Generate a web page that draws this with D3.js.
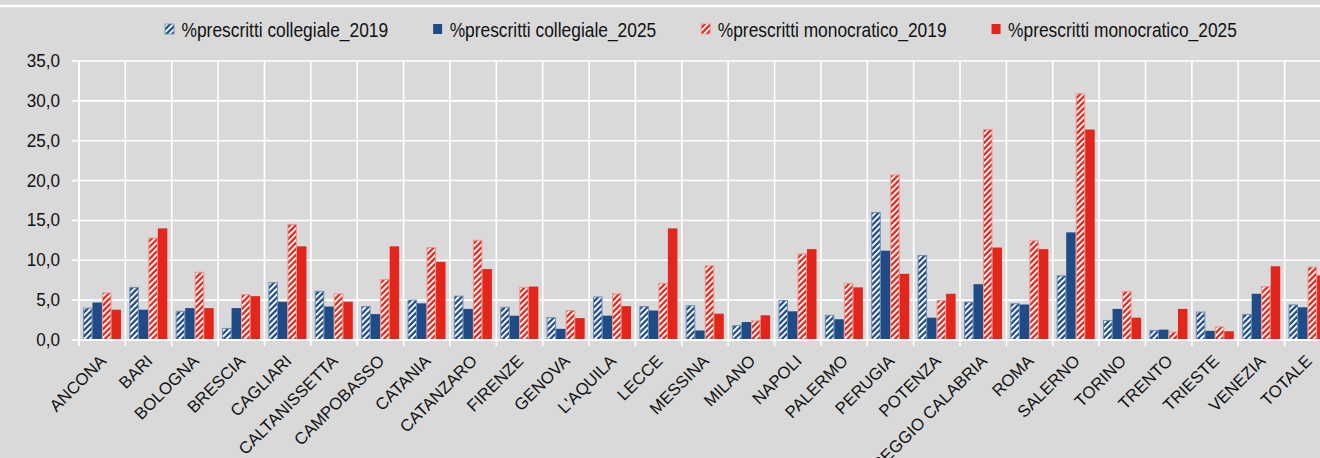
<!DOCTYPE html>
<html>
<head>
<meta charset="utf-8">
<script src="https://cdn.jsdelivr.net/npm/d3@7"></script>
<style>
  html, body { margin: 0; padding: 0; background: #d9d9d9; overflow: hidden; }
  text { font-family: "Liberation Sans", Arial, sans-serif; fill: #111; }
</style>
</head>
<body>
<div id="chart"></div>
<script>
var categorie = ["ANCONA", "BARI", "BOLOGNA", "BRESCIA", "CAGLIARI", "CALTANISSETTA", "CAMPOBASSO",
  "CATANIA", "CATANZARO", "FIRENZE", "GENOVA", "L'AQUILA", "LECCE", "MESSINA", "MILANO", "NAPOLI",
  "PALERMO", "PERUGIA", "POTENZA", "REGGIO CALABRIA", "ROMA", "SALERNO", "TORINO", "TRENTO",
  "TRIESTE", "VENEZIA", "TOTALE"];

var collegiale2019 = [4.0, 6.6, 3.6, 1.45, 7.2, 6.1, 4.2, 5.0, 5.5, 4.1, 2.8, 5.4, 4.2, 4.3, 1.8, 4.95,
  3.1, 16.0, 10.6, 4.75, 4.55, 8.05, 2.45, 1.2, 3.5, 3.2, 4.4];
var collegiale2025 = [4.7, 3.8, 4.0, 4.0, 4.8, 4.2, 3.25, 4.6, 3.9, 3.05, 1.4, 3.05, 3.7, 1.2, 2.25, 3.6,
  2.6, 11.2, 2.8, 7.0, 4.45, 13.5, 3.9, 1.3, 1.15, 5.8, 4.1];
var monocratico2019 = [5.9, 12.8, 8.5, 5.7, 14.5, 5.8, 7.6, 11.6, 12.5, 6.6, 3.7, 5.8, 7.1, 9.3, 2.4, 10.8,
  7.1, 20.7, 4.95, 26.4, 12.45, 30.9, 6.1, 1.0, 1.65, 6.7, 9.15];
var monocratico2025 = [3.8, 14.0, 4.0, 5.5, 11.75, 4.8, 11.75, 9.8, 8.9, 6.7, 2.75, 4.25, 14.0, 3.3, 3.1, 11.4,
  6.6, 8.3, 5.8, 11.6, 11.4, 26.4, 2.8, 3.9, 1.1, 9.25, 8.1];

var serieNomi = ["%prescritti collegiale_2019", "%prescritti collegiale_2025",
  "%prescritti monocratico_2019", "%prescritti monocratico_2025"];
var serieValori = [collegiale2019, collegiale2025, monocratico2019, monocratico2025];
var yTicks = [0, 5, 10, 15, 20, 25, 30, 35];

var blu = "#1f4b87", rosso = "#e3261c";
var stili = [
  { fill: "url(#hatchBlu)", stroke: "#6d8cbb" },
  { fill: blu, stroke: "none" },
  { fill: "url(#hatchRosso)", stroke: "#f2948c" },
  { fill: rosso, stroke: "none" }
];

var W = 1320, H = 458;
var plotLeft = 79, band = 46.37, plotTop = 61, plotBottom = 340;
var squash = 0.9;

var svg = d3.select("#chart").append("svg")
    .attr("width", W).attr("height", H)
    .style("display", "block")
    .style("background", "#d9d9d9");

var defs = svg.append("defs");
function hatch(id, color) {
  var p = defs.append("pattern")
      .attr("id", id)
      .attr("patternUnits", "userSpaceOnUse")
      .attr("width", 4.2).attr("height", 4.2)
      .attr("patternTransform", "rotate(45)");
  p.append("rect").attr("width", 4.2).attr("height", 4.2).attr("fill", color);
  p.append("rect").attr("width", 1.9).attr("height", 4.2).attr("fill", "#fff");
}
hatch("hatchBlu", blu);
hatch("hatchRosso", rosso);

// top white rule
svg.append("line")
    .attr("x1", 0).attr("x2", W).attr("y1", 6).attr("y2", 6)
    .attr("stroke", "#fff").attr("stroke-width", 2.5);

var x0 = d3.scaleBand().domain(categorie).range([plotLeft, plotLeft + band * categorie.length]);
var x1 = d3.scaleBand().domain(d3.range(4)).range([band * 0.085, band * 0.905]);
var y = d3.scaleLinear().domain([0, 35]).range([plotBottom, plotTop]);

// grid
var grid = svg.append("g");
grid.selectAll(".hg").data(yTicks.slice(1)).join("line")
    .attr("x1", plotLeft).attr("x2", W)
    .attr("y1", function(d) { return y(d); }).attr("y2", function(d) { return y(d); })
    .attr("stroke", "#fff").attr("stroke-width", 1.6);
grid.selectAll(".vg").data(categorie.slice(1)).join("line")
    .attr("x1", function(d) { return x0(d); }).attr("x2", function(d) { return x0(d); })
    .attr("y1", y(35)).attr("y2", plotBottom + 6)
    .attr("stroke", "#fff").attr("stroke-width", 1.6);

// bars
serieValori.forEach(function(vals, s) {
  var bordo = stili[s].stroke != "none";
  svg.append("g").selectAll("rect").data(vals).join("rect")
      .attr("x", function(d, i) { return x0(categorie[i]) + x1(s) + (bordo ? 0.5 : 0); })
      .attr("width", x1.bandwidth() - (bordo ? 1 : 0))
      .attr("y", function(d) { return y(d); })
      .attr("height", function(d) { return plotBottom - y(d); })
      .attr("fill", stili[s].fill)
      .attr("stroke", stili[s].stroke)
      .attr("stroke-width", 1);
});

// axes
svg.append("line")
    .attr("x1", plotLeft).attr("x2", W).attr("y1", plotBottom).attr("y2", plotBottom)
    .attr("stroke", "#fff").attr("stroke-width", 2.2);
svg.append("line")
    .attr("x1", plotLeft).attr("x2", plotLeft).attr("y1", y(35)).attr("y2", plotBottom + 6)
    .attr("stroke", "#fff").attr("stroke-width", 2);
svg.append("g").selectAll("line").data(yTicks).join("line")
    .attr("x1", plotLeft - 7).attr("x2", plotLeft)
    .attr("y1", function(d) { return y(d); }).attr("y2", function(d) { return y(d); })
    .attr("stroke", "#fff").attr("stroke-width", 1.6);

var fmt = d3.format(".1f");
svg.append("g").selectAll("text").data(yTicks).join("text")
    .attr("transform", function(d) { return "translate(60," + (y(d) + 1) + ") scale(" + squash + ",1)"; })
    .attr("text-anchor", "end")
    .attr("dominant-baseline", "middle")
    .style("font-size", "19px")
    .text(function(d) { return fmt(d).replace(".", ","); });

// x labels
svg.append("g").selectAll("text").data(categorie).join("text")
    .attr("transform", function(d) {
      return "translate(" + (x0(d) + band / 2 + 5) + ",362) rotate(-45)";
    })
    .attr("text-anchor", "end")
    .style("font-size", "16.8px")
    .text(function(d) { return d; });

// legend
var lx = 165;
serieNomi.forEach(function(nome, s) {
  var g = svg.append("g");
  g.append("rect")
      .attr("x", lx).attr("y", 24).attr("width", 9).attr("height", 10)
      .attr("fill", stili[s].fill)
      .attr("stroke", stili[s].stroke == "none" ? "none" : stili[s].stroke)
      .attr("stroke-width", 0.8);
  var t = g.append("text")
      .attr("transform", "translate(" + (lx + 16.5) + ",37) scale(" + squash + ",1)")
      .style("font-size", "19.3px")
      .text(nome);
  lx += 16.5 + t.node().getComputedTextLength() * squash + 45;
});
</script>
</body>
</html>
